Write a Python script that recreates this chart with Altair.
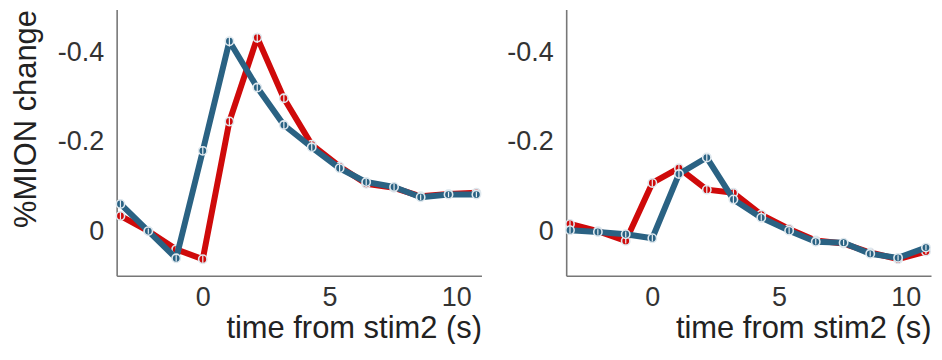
import altair as alt
import pandas as pd

# time points (s) relative to stim2
time_s = [-3.25, -2.15, -1.05, 0.0, 1.05, 2.15, 3.2, 4.3, 5.4, 6.45, 7.55, 8.6, 9.7, 10.8]

# %MION change (negative = upward on the reversed axis)
left_red = [-0.034, 0.0, 0.041, 0.063, -0.246, -0.434, -0.298, -0.194, -0.145, -0.106, -0.097, -0.078, -0.083, -0.086]
left_blue = [-0.061, 0.0, 0.061, -0.180, -0.426, -0.322, -0.238, -0.188, -0.141, -0.110, -0.099, -0.076, -0.082, -0.082]
right_red = [-0.016, 0.0, 0.022, -0.108, -0.141, -0.093, -0.086, -0.037, -0.005, 0.021, 0.028, 0.048, 0.063, 0.046]
right_blue = [-0.002, 0.002, 0.007, 0.016, -0.128, -0.165, -0.071, -0.030, -0.001, 0.024, 0.026, 0.051, 0.060, 0.037]

# small error bars (s.e.m.)
left_red_err = [0.008, 0.006, 0.007, 0.008, 0.010, 0.012, 0.010, 0.009, 0.008, 0.007, 0.007, 0.006, 0.006, 0.006]
left_blue_err = [0.008, 0.006, 0.007, 0.009, 0.012, 0.010, 0.009, 0.008, 0.008, 0.007, 0.007, 0.006, 0.006, 0.006]
right_red_err = [0.007, 0.006, 0.006, 0.008, 0.009, 0.008, 0.008, 0.007, 0.007, 0.006, 0.006, 0.006, 0.006, 0.006]
right_blue_err = [0.007, 0.006, 0.006, 0.007, 0.009, 0.009, 0.008, 0.007, 0.007, 0.006, 0.006, 0.006, 0.006, 0.006]

RED = "#cf0a0a"
BLUE = "#2a6283"
FONT = "Liberation Sans"


def series_df(vals, errs):
    return pd.DataFrame({
        "t": time_s,
        "v": vals,
        "lo": [v - e for v, e in zip(vals, errs)],
        "hi": [v + e for v, e in zip(vals, errs)],
    })


X_SCALE = alt.Scale(domain=[-3.4, 11.0], nice=False, zero=False)
Y_SCALE = alt.Scale(domain=[-0.497, 0.1], reverse=True, nice=False, zero=False)

Y_LABEL = "datum.value == 0 ? '0' : '-' + format(abs(datum.value), '.1f')"


def panel(red_vals, red_err, blue_vals, blue_err, show_ytitle):
    x_axis = alt.Axis(values=[0, 5, 10], title="time from stim2 (s)", titleAnchor="end",
                      titleAlign="right", labelPadding=9, titlePadding=3, ticks=False,
                      grid=False)
    y_axis = alt.Axis(values=[-0.4, -0.2, 0], labelExpr=Y_LABEL, ticks=False, grid=False,
                      labelPadding=13,
                      title="%MION change" if show_ytitle else None,
                      titleAnchor="start", titleAlign="right", titlePadding=15)
    x = alt.X("t:Q", scale=X_SCALE, axis=x_axis)
    y = alt.Y("v:Q", scale=Y_SCALE, axis=y_axis)

    layers = []
    for vals, errs, col in ((red_vals, red_err, RED), (blue_vals, blue_err, BLUE)):
        base = alt.Chart(series_df(vals, errs))
        line = base.mark_line(color=col, strokeWidth=6, strokeJoin="round",
                              strokeCap="round").encode(x=x, y=y)
        pts = base.mark_point(shape="circle", filled=True, fill=col, stroke="#dfe8ee",
                              strokeWidth=1.6, size=70, opacity=1).encode(x=x, y=y)
        err = base.mark_rule(color="#e8eef2", strokeWidth=1.2).encode(
            x=x, y=alt.Y("lo:Q", scale=Y_SCALE), y2="hi:Q")
        layers += [line, pts, err]
    return alt.layer(*layers).properties(width=366, height=267)


left = panel(left_red, left_red_err, left_blue, left_blue_err, True)
right = panel(right_red, right_red_err, right_blue, right_blue_err, False)

chart = alt.hconcat(left, right, spacing=22).properties(
    padding={"left": 2, "top": 0, "right": 0, "bottom": 0}
).configure_view(stroke=None).configure_axis(
    domainColor="#777777", domainWidth=1.6,
    labelFont=FONT, labelFontSize=27, labelColor="#333333",
    titleFont=FONT, titleFontSize=31, titleColor="#222222", titleFontWeight="normal",
)

chart.save("out.html", embed_options={"renderer": "svg", "actions": False})
